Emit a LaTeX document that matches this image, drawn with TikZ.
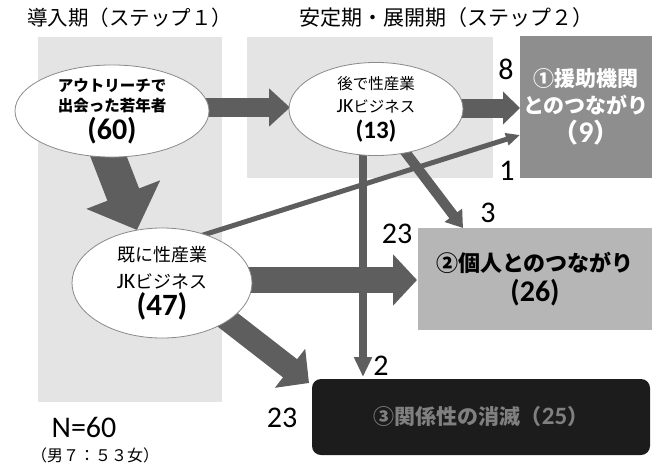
\documentclass[tikz,border=0pt]{standalone}
\usepackage{fontspec}
\setmainfont{Carlito}
\newfontfamily\jp{Noto Sans CJK JP}
\usetikzlibrary{arrows.meta,shapes.geometric}
\newcommand\myfs[2]{\fontsize{#1}{#2}\selectfont}
\definecolor{panelc}{HTML}{E4E4E4}
\definecolor{arrc}{HTML}{5E5E5E}
\definecolor{boxa}{HTML}{8E8E8E}
\definecolor{boxb}{HTML}{B6B6B6}
\definecolor{boxc}{HTML}{1C1C1C}
\definecolor{ellc}{HTML}{8A8A8A}
\tikzset{
  panel/.style={fill=panelc},
  ell/.style={ellipse, draw=ellc, line width=0.8pt, fill=white, inner sep=0pt, align=center},
  blk/.style={draw=arrc, fill=arrc, line cap=butt},
  numlab/.style={font=\rmfamily\myfs{30}{30}, inner sep=0pt},
}
\begin{document}
\begin{tikzpicture}[x=1pt,y=-1pt]
\useasboundingbox (0,0) rectangle (652,467);
% titles
\node[font=\jp\myfs{20.5}{22}, anchor=west, inner sep=0pt] (t1) at (27,18) {導入期（ステップ１）};
\node[font=\jp\myfs{21}{22}, anchor=west, inner sep=0pt] (t2) at (299,18) {安定期・展開期（ステップ２）};
% panels
\fill[panel] (38,37) rectangle (222,402);
\fill[panel] (247,37) rectangle (493,178);
% boxes
\node[fill=boxa, minimum width=132pt, minimum height=142pt, inner sep=0pt, align=center,
      text=white, font=\jp\bfseries\myfs{21}{27}] (b1) at (586,107)
  {①援助機関\\とのつながり\\[2pt]{\myfs{26}{26}（{\rmfamily\myfs{30}{30}9}）}};
\node[fill=boxb, minimum width=234pt, minimum height=102pt, inner sep=0pt, align=center,
      font=\jp\bfseries\myfs{22}{30}] (b2) at (535,279)
  {②個人とのつながり\\{\rmfamily\bfseries\myfs{30}{30}(26)}};
\node[fill=boxc, rounded corners=9pt, minimum width=338pt, minimum height=76pt, inner sep=0pt,
      text=gray, font=\jp\bfseries\myfs{21}{22}] (b3) at (481,417)
  {③関係性の消滅（{\rmfamily\myfs{25}{25}25}）};
% arrow end points
\coordinate (a1s) at (205,107.5); \coordinate (a1e) at (290,107.5);
\coordinate (a2s) at (106,150);   \coordinate (a2e) at (137,230);
\coordinate (a3s) at (455,108);   \coordinate (a3e) at (520,108);
\coordinate (a4s) at (200,236);   \coordinate (a4e) at (520,135);
\coordinate (a5s) at (363,150);   \coordinate (a5e) at (363,377);
\coordinate (a6s) at (400,145);   \coordinate (a6e) at (463,228);
\coordinate (a7s) at (245,280);   \coordinate (a7e) at (417,280);
\coordinate (a8s) at (215,310);   \coordinate (a8e) at (309,383);
% block arrows
\draw[blk, line width=19pt, -{Triangle[width=37pt,length=21pt]}] (a1s) -- (a1e);
\draw[blk, line width=34pt, -{Triangle[width=77pt,length=38pt]}] (a2s) -- (a2e);
\draw[blk, line width=19pt, -{Triangle[width=32pt,length=17pt]}] (a3s) -- (a3e);
\draw[blk, line width=26pt, -{Triangle[width=50pt,length=24pt]}] (a7s) -- (a7e);
\draw[blk, line width=23pt, -{Triangle[width=48pt,length=24pt]}] (a8s) -- (a8e);
\draw[blk, line width=10pt, -{Triangle[width=21pt,length=16pt]}] (a6s) -- (a6e);
\draw[blk, line width=8pt, -{Triangle[width=17pt,length=20pt]}] (a5s) -- (a5e);
\draw[blk, line width=5pt, -{Triangle[width=12pt,length=14pt]}] (a4s) -- (a4e);
% ellipses
\node[ell, minimum width=194pt, minimum height=92pt, font=\jp\bfseries\myfs{15.5}{20}] (e1) at (112,111)
  {アウトリーチで\\出会った若年者\\[3pt]{\rmfamily\bfseries\myfs{30}{30}(60)}};
\node[ell, minimum width=174pt, minimum height=88pt, font=\jp\myfs{15.5}{23}] (e2) at (376,109)
  {後で性産業\\{\rmfamily\myfs{20}{20}JK}ビジネス\\[3pt]{\rmfamily\bfseries\myfs{25}{25}(13)}};
\node[ell, minimum width=180pt, minimum height=110pt, font=\jp\myfs{18}{27}] (e3) at (162,283)
  {既に性産業\\{\rmfamily\myfs{22}{22}JK}ビジネス\\{\rmfamily\bfseries\myfs{31}{31}(47)}};
% numbers
\node[numlab] (n8) at (506,69) {8};
\node[numlab] (n1) at (507,171) {1};
\node[numlab] (n3) at (488,213) {3};
\node[numlab] (n23a) at (397,234) {23};
\node[numlab] (n2) at (381,366) {2};
\node[numlab] (n23b) at (282,418) {23};
\node[font=\rmfamily\myfs{30}{30}, inner sep=0pt] (nn) at (84,427) {N=60};
\node[font=\jp\myfs{16}{17}, inner sep=0pt] (sex) at (95,455) {（男７：５３女）};
\end{tikzpicture}
\end{document}
